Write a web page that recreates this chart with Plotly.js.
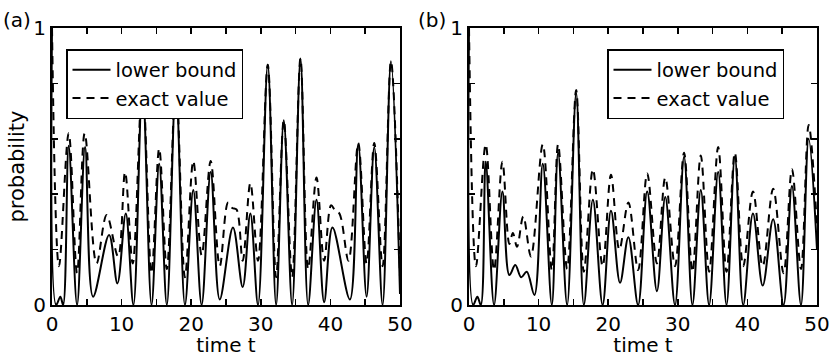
<!DOCTYPE html>
<html>
<head>
<meta charset="utf-8">
<script src="https://cdn.plot.ly/plotly-3.0.1.min.js"></script>
<style>html,body{margin:0;padding:0;background:#fff;}#chart{width:830px;height:357px;}</style>
</head>
<body>
<div id="chart"></div>
<script>
// ---- Panel (a) ----
const tLowerA = [0, 0.6, 1.2, 1.6, 2.4, 3.6, 4.75, 5.9, 8.2, 9.4, 10.6, 11.7, 13.0, 14.3, 15.4, 16.5, 17.8, 19.1, 20.3, 21.5, 22.8, 24.1, 26.0, 27.4, 28.5, 29.6, 31.0, 32.2, 33.3, 34.5, 35.7, 36.8, 38.0, 39.1, 40.3, 42.8, 44.0, 45.2, 46.3, 47.5, 48.7, 50.0];
const pLowerA = [1.0, 0.0, 0.03, 0.0, 0.575, 0.0, 0.57, 0.03, 0.253, 0.078, 0.33, 0.0, 0.80, 0.0, 0.51, 0.0, 0.80, 0.0, 0.415, 0.0, 0.48, 0.02, 0.28, 0.065, 0.33, 0.0, 0.867, 0.0, 0.667, 0.0, 0.89, 0.0, 0.38, 0.01, 0.28, 0.02, 0.58, 0.03, 0.57, 0.0, 0.88, 0.04];
const tExactA = [0, 1.0, 2.4, 3.6, 4.7, 6.4, 7.85, 9.5, 10.5, 11.6, 13.0, 14.3, 15.4, 16.5, 17.8, 19.1, 20.3, 21.5, 22.8, 24.1, 25.3, 25.9, 26.5, 27.4, 28.5, 29.6, 31.0, 32.2, 33.3, 34.5, 35.7, 36.8, 38.0, 39.1, 40.1, 40.7, 41.3, 42.6, 44.0, 45.2, 46.3, 47.5, 48.7, 50.0];
const pExactA = [1.0, 0.14, 0.62, 0.115, 0.62, 0.15, 0.325, 0.175, 0.48, 0.15, 0.80, 0.115, 0.565, 0.13, 0.80, 0.10, 0.52, 0.18, 0.52, 0.14, 0.37, 0.35, 0.345, 0.16, 0.44, 0.16, 0.867, 0.10, 0.667, 0.10, 0.89, 0.13, 0.46, 0.16, 0.36, 0.34, 0.33, 0.16, 0.585, 0.15, 0.585, 0.14, 0.88, 0.10];

// ---- Panel (b) ----
const tLowerB = [0, 0.6, 1.2, 1.7, 2.4, 3.6, 4.8, 5.8, 6.65, 7.5, 8.3, 9.4, 10.6, 11.9, 12.8, 14.1, 15.4, 16.5, 17.8, 19.2, 20.4, 21.7, 22.9, 24.3, 25.6, 27.0, 28.2, 29.6, 30.9, 32.1, 33.3, 34.5, 35.8, 37.0, 38.2, 39.4, 40.8, 42.2, 43.7, 45.2, 46.4, 47.7, 48.8, 50.0];
const pLowerB = [1.0, 0.0, 0.03, 0.0, 0.517, 0.0, 0.41, 0.108, 0.144, 0.10, 0.12, 0.036, 0.51, 0.0, 0.55, 0.0, 0.765, 0.0, 0.38, 0.0, 0.34, 0.08, 0.245, 0.0, 0.41, 0.05, 0.39, 0.0, 0.535, 0.0, 0.415, 0.0, 0.48, 0.0, 0.535, 0.0, 0.33, 0.07, 0.31, 0.0, 0.43, 0.0, 0.60, 0.20];
const tExactB = [0, 1.0, 2.4, 3.6, 4.8, 5.8, 6.3, 6.9, 7.8, 8.9, 10.6, 11.9, 12.8, 14.1, 15.4, 16.5, 17.8, 19.2, 20.4, 21.6, 22.9, 24.3, 25.6, 27.0, 28.2, 29.6, 30.9, 32.1, 33.3, 34.5, 35.8, 37.0, 38.2, 39.4, 40.8, 42.2, 43.7, 45.2, 46.4, 47.7, 48.8, 50.0];
const pExactB = [1.0, 0.14, 0.58, 0.126, 0.517, 0.22, 0.26, 0.21, 0.32, 0.175, 0.58, 0.126, 0.58, 0.13, 0.776, 0.12, 0.49, 0.14, 0.47, 0.20, 0.37, 0.126, 0.475, 0.15, 0.46, 0.14, 0.55, 0.12, 0.54, 0.12, 0.57, 0.12, 0.55, 0.14, 0.41, 0.14, 0.42, 0.115, 0.49, 0.13, 0.65, 0.28];

// ---- Axis ticks & labels ----
const xTickVals = [0, 5, 10, 15, 20, 25, 30, 35, 40, 45, 50];
const xTickText = ["0", "", "10", "", "20", "", "30", "", "40", "", "50"];
const yTickVals = [0, 0.2, 0.4, 0.6, 0.8, 1];
const yTickText = ["0", "", "", "", "", "1"];
const seriesNames = ["lower bound", "exact value"];
const panelLabels = ["(a)", "(b)"];
const xTitle = "time t";
const yTitle = "probability";

const FONT = "DejaVu Sans, Liberation Sans, Arial, sans-serif";
const W = 830, H = 357;

function solid(x, y, xa, ya, leg) {
  return {x: x, y: y, xaxis: xa, yaxis: ya, type: 'scatter', mode: 'lines',
    name: seriesNames[0], legend: leg, showlegend: true,
    line: {color: '#000', width: 2, shape: 'spline', smoothing: 1}};
}
function dashed(x, y, xa, ya, leg) {
  return {x: x, y: y, xaxis: xa, yaxis: ya, type: 'scatter', mode: 'lines',
    name: seriesNames[1], legend: leg, showlegend: true,
    line: {color: '#000', width: 2, dash: '8px,6px', shape: 'spline', smoothing: 1}};
}

const data = [
  dashed(tExactA, pExactA, 'x', 'y', 'legend'),
  solid(tLowerA, pLowerA, 'x', 'y', 'legend'),
  dashed(tExactB, pExactB, 'x2', 'y2', 'legend2'),
  solid(tLowerB, pLowerB, 'x2', 'y2', 'legend2')
];

function xax(domain, anchor) {
  return {domain: domain, anchor: anchor, range: [0, 50], tickmode: 'array',
    tickvals: xTickVals, ticktext: xTickText, ticks: 'inside', ticklen: 6, tickwidth: 1.5,
    tickcolor: '#000', mirror: 'allticks', showline: true, linecolor: '#000', linewidth: 2,
    showgrid: false, zeroline: false, tickfont: {family: FONT, size: 20, color: '#000'},
    title: {text: xTitle, font: {family: FONT, size: 20, color: '#000'}, standoff: 3}};
}
function yax(domain, anchor, withTitle) {
  const a = {domain: domain, anchor: anchor, range: [0, 1], tickmode: 'array',
    tickvals: yTickVals, ticktext: yTickText, ticks: 'inside', ticklen: 6, tickwidth: 1.5,
    tickcolor: '#000', mirror: 'allticks', showline: true, linecolor: '#000', linewidth: 2,
    showgrid: false, zeroline: false, tickfont: {family: FONT, size: 20, color: '#000'}};
  if (withTitle) a.title = {text: yTitle, font: {family: FONT, size: 21, color: '#000'}, standoff: 3};
  return a;
}

const yDom = [1 - 305 / H, 1 - 28 / H];
const legendStyle = (x) => ({x: x, y: 1 - 49 / H, xref: 'paper', yref: 'paper', xanchor: 'left', yanchor: 'top',
  bgcolor: '#fff', bordercolor: '#000', borderwidth: 1.5, traceorder: 'reversed',
  font: {family: FONT, size: 19.5, color: '#000'}, tracegroupgap: 0, itemwidth: 38});

const layout = {
  width: W, height: H,
  margin: {l: 0, r: 0, t: 0, b: 0, pad: 0},
  paper_bgcolor: '#fff', plot_bgcolor: '#fff',
  showlegend: true,
  xaxis: xax([52 / W, 400 / W], 'y'),
  yaxis: yax(yDom, 'x', true),
  xaxis2: xax([469 / W, 817 / W], 'y2'),
  yaxis2: yax(yDom, 'x2', false),
  legend: legendStyle(66 / W),
  legend2: legendStyle(607 / W),
  annotations: [
    {text: panelLabels[0], x: 1 / W, y: 1 - 20 / H, xref: 'paper', yref: 'paper', xanchor: 'left', yanchor: 'middle', showarrow: false, font: {family: FONT, size: 20, color: '#000'}},
    {text: panelLabels[1], x: 416 / W, y: 1 - 20 / H, xref: 'paper', yref: 'paper', xanchor: 'left', yanchor: 'middle', showarrow: false, font: {family: FONT, size: 20, color: '#000'}}
  ]
};

Plotly.newPlot('chart', data, layout, {staticPlot: true, displayModeBar: false});
</script>
</body>
</html>
